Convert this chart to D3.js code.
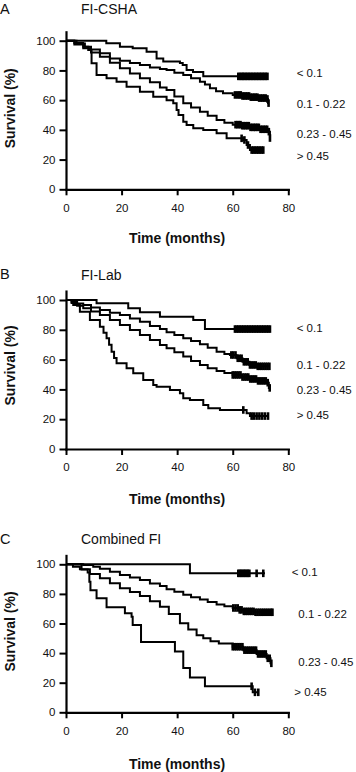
<!DOCTYPE html>
<html><head><meta charset="utf-8">
<script src="https://cdn.jsdelivr.net/npm/d3@7"></script>
<style>
html,body{margin:0;padding:0;background:#fff;}
text{font-family:"Liberation Sans",Arial,Helvetica,sans-serif;fill:#111;}
</style></head>
<body>
<script>
// ---------- DATA ----------
const groupLabels = ["< 0.1", "0.1 - 0.22", "0.23 - 0.45", "> 0.45"];
const panelLetters = ["A", "B", "C"];
const panelTitles = ["FI-CSHA", "FI-Lab", "Combined FI"];
const xTicks = [0, 20, 40, 60, 80];
const yTicks = [0, 20, 40, 60, 80, 100];
const xTitle = "Time (months)";
const yTitle = "Survival (%)";

// Kaplan-Meier steps: [month, survival %]
const cshaLt01 = [[0,100],[14.5,98.3],[19.4,96],[24,94.9],[29,92.6],[32.6,88],[35,86],[41,85],[42,83.6],[43.4,80.3],[45.7,79],[49.4,76]];
const csha0122 = [[0,100],[3,98.5],[6.2,96],[9,94],[12.2,91.5],[15.8,88.1],[19.4,86.5],[23,85],[26.6,83.6],[30.2,82],[33.8,81],[36.2,80.3],[39,78.5],[42.2,76.9],[45,74.8],[48.2,72.4],[50,70.5],[51.8,68],[54,66],[56.5,64.6],[60,63.5],[63,62.8],[66,62],[69,61.4],[72,60.8],[72.7,58]];
const csha2345 = [[0,100],[3,97.5],[6.2,94.9],[9,92],[12.2,89.2],[15.8,85.2],[19.4,81.4],[23,78],[26.6,74.7],[30.2,72],[33.8,68.5],[36.2,66.8],[39,62.5],[42.2,57.9],[45,55],[48.2,52.2],[51,49.5],[54.2,46.6],[57,44.8],[60,43.5],[63,42.8],[66,41.7],[70,40.4],[72.7,38.8],[73.4,34.5]];
const cshaGt045 = [[0,100],[3.8,98.2],[6.8,96],[8,93.7],[9.2,84.8],[11,76.9],[14.6,74.7],[18.2,72.4],[21.8,69],[26.6,65.7],[31.4,62.3],[36.2,60],[38.6,57.9],[39.8,53.4],[40.5,50],[42.2,45.5],[43.4,43.2],[45.8,41],[49.4,39.9],[54.2,37.7],[57.8,34.3],[63.8,33.2],[65,29.8],[66.2,26.4]];

const labLt01 = [[0,100],[11,97.8],[22.4,94.4],[26.6,91.7],[33.8,88.8],[45.8,86.6],[50,80.5]];
const lab0122 = [[0,100],[2,98.8],[4,97.7],[6.2,96.6],[9,95],[12.2,93.3],[15.8,91.5],[19.4,89.9],[23,87.6],[26.6,85.4],[30.2,82.5],[33.8,80.5],[36.2,78.3],[39,76.5],[42.2,74.3],[45,72.5],[48.2,70.3],[51,68],[54.2,65.3],[57,63.8],[59,63.1],[61.4,60.9],[63.5,58.5],[66,56.4],[69,55.5]];
const lab2345 = [[0,100],[2,98],[4,96.2],[6.2,94.4],[9,92.2],[12.2,89.9],[15.8,86.5],[19.4,83.2],[23,79.8],[26.6,76.5],[30.2,73.2],[33.8,69.8],[36.2,67.6],[39,65],[42.2,62],[45,59],[48.2,56.4],[51,54.2],[54.2,52.3],[57,51],[60,49.7],[63,48.3],[66,47],[69,45.7],[72,44.5],[73,41]];
const labGt045 = [[0,100],[2.6,96.6],[5,92.1],[8.6,86.6],[12.2,82],[13.5,78],[14.6,74.3],[15.5,70],[16.4,65.3],[17.3,61],[18.2,57.5],[21.8,54.2],[24.2,50.8],[27.8,46.3],[31.4,43],[32.6,41.8],[37.4,39.6],[41,37.4],[42.2,34],[44.6,32.9],[49.4,29.5],[51.2,27.3],[55.4,26.2],[65,24],[66.2,22.1]];

const combLt01 = [[0,100],[44.6,93.9]];
const comb0122 = [[0,100],[6.2,99.5],[9.8,98.4],[12.2,97],[15.8,95],[19.4,92.8],[23,91],[26.6,89.4],[30.2,87],[33.8,85.3],[36.2,83.2],[39,81.5],[42.2,79.5],[45,77.8],[48.2,76.2],[51,74.5],[54.2,72.8],[57,71.6],[60,70.5],[62,69.2],[63.8,68.2],[68,67.6]];
const comb2345 = [[0,100],[2.5,98.3],[5,96.6],[8.6,93.4],[12.2,90.5],[15.8,87.2],[19.4,83.8],[23,81.2],[26.6,78.6],[30.2,75],[33.8,71.4],[37,66.5],[41,60.1],[44,56],[47,52],[49.4,50],[52,48],[55,46.5],[60,44.3],[63.8,42],[68.6,39.4],[72.2,36.5],[73.6,33.1]];
const combGt045 = [[0,100],[5.6,96.5],[7.8,94.5],[8.4,88.2],[8.8,82.4],[11,77],[14.6,71],[21.2,67],[23.6,64.5],[24,59],[27,47.5],[39.2,41],[42.2,30],[44.6,23.5],[50,17.6],[67.2,13.5]];

// last follow-up month of each curve (groups in legend order)
const cshaEnd = [72.7, 72.9, 73.4, 71];
const labEnd = [73.4, 73.4, 73.4, 72.7];
const combEnd = [71.6, 74.3, 74, 69.2];

// censoring times (months)
const cshaCens = [
  [62,62.6,63.2,63.7,64.2,64.8,65.3,65.9,66.4,67,67.5,68.1,68.6,69.2,69.7,70.3,70.8,71.4,71.9,72.5],
  [60.8,61.6,62.3,62.9,63.5,64.1,64.7,65.3,65.9,66.5,67.1,67.7,68.3,68.9,69.5,70.1,70.7,71.3,71.9,72.5,72.9],
  [61,61.6,62.2,62.8,63.4,64,64.6,65.2,65.8,66.4,67,67.6,68.2,68.8,69.4,70,70.6,71.2,71.8,72.4,73,73.4],
  [63.2,64.2,65.5,66.8,67.4,68,68.6,69.2,69.8,70.4,71]
];
const labCens = [
  [60.8,61.4,62,62.6,63.2,63.8,64.4,65,65.6,66.2,66.8,67.4,68,68.6,69.2,69.8,70.4,71,71.6,72.2,72.8,73.4],
  [59.5,60.2,61,61.8,62.5,63.2,64,64.7,65.4,66.2,66.9,67.6,68.3,69,69.7,70.4,71.1,71.8,72.5,73.2],
  [60,60.7,61.4,62.1,62.8,63.5,64.2,64.9,65.6,66.3,67,67.7,68.4,69.1,69.8,70.5,71.2,71.9,72.6,73.3],
  [63.8,66.8,67.6,68.6,69.6,70.6,71.6,72.7]
];
const combCens = [
  [62,62.5,63,63.5,64,64.5,65,65.5,66,68.6,71],
  [60.2,61,61.8,62.5,63.2,64,64.7,65.4,66.1,66.8,67.5,68.2,68.9,69.6,70.3,71,71.7,72.4,73.1,73.8,74.3],
  [60,60.7,61.4,62.1,62.8,63.5,64.2,64.9,65.6,66.3,67,67.7,68.4,69.1,69.8,70.5,71.2,71.9,72.6,73.3,73.9],
  [66.8,68,69.2]
];

// ---------- LAYOUT (pixels) ----------
const layout = [
  {yTop:40.7, yBot:189.3, letterY:13.5, titleY:14, xTitleY:242.7, yTitleY:108.3,
   legX:[296.7,296.7,296.7,296.7], legY:[72.7,103.7,134,155.5]},
  {yTop:300, yBot:449, letterY:278.5, titleY:280, xTitleY:504, yTitleY:365.5,
   legX:[296.7,296.7,296.7,296.7], legY:[327.5,364.7,389.7,414.7]},
  {yTop:564.3, yBot:712.3, letterY:543.5, titleY:544, xTitleY:769, yTitleY:631.5,
   legX:[291.7,298.3,298.3,294.3], legY:[572,614,662,691.7]}
];

const panelSeries = [
  {steps:[cshaLt01,csha0122,csha2345,cshaGt045], ends:cshaEnd, cens:cshaCens},
  {steps:[labLt01,lab0122,lab2345,labGt045], ends:labEnd, cens:labCens},
  {steps:[combLt01,comb0122,comb2345,combGt045], ends:combEnd, cens:combCens}
];

// ---------- DRAW ----------
const W = 356, H = 772;
const svg = d3.select("body").append("svg").attr("width", W).attr("height", H);
const x = d3.scaleLinear().domain([0, 80]).range([66, 288.3]);

function survAt(steps, t) {
  let v = steps[0][1];
  for (const s of steps) { if (s[0] <= t) v = s[1]; else break; }
  return v;
}

panelSeries.forEach((ps, i) => {
  const L = layout[i];
  const y = d3.scaleLinear().domain([0, 100]).range([L.yBot, L.yTop]);
  const g = svg.append("g");

  g.append("text").attr("x", 0).attr("y", L.letterY).attr("font-size", 14.5).text(panelLetters[i]);
  g.append("text").attr("x", 81).attr("y", L.titleY).attr("font-size", 14).text(panelTitles[i]);

  const line = d3.line().x(d => x(d[0])).y(d => y(d[1])).curve(d3.curveStepAfter);
  ps.steps.forEach((st, k) => {
    const pts = st.concat([[ps.ends[k], st[st.length - 1][1]]]);
    g.append("path").attr("d", line(pts)).attr("fill", "none")
      .attr("stroke", "#000").attr("stroke-width", 2).attr("stroke-linejoin", "miter");
    g.selectAll(null).data(ps.cens[k]).enter().append("line")
      .attr("x1", t => x(t)).attr("x2", t => x(t))
      .attr("y1", t => y(survAt(st, t)) - 3.8)
      .attr("y2", t => y(survAt(st, t)) + 3.8)
      .attr("stroke", "#000").attr("stroke-width", 2.6);
  });

  const yAxisScale = d3.scaleLinear().domain([0, 106]).range([L.yBot, y(106)]);
  const yAxis = d3.axisLeft(yAxisScale).tickValues(yTicks).tickSize(6.5).tickSizeOuter(0).tickPadding(4);
  const ya = g.append("g").attr("transform", "translate(66,0)").call(yAxis);
  const xAxis = d3.axisBottom(x).tickValues(xTicks).tickSize(6).tickSizeOuter(0).tickPadding(8.3);
  const xa = g.append("g").attr("transform", `translate(0,${L.yBot})`).call(xAxis);
  [ya, xa].forEach(a => {
    a.select(".domain").attr("stroke", "#000").attr("stroke-width", 2.2).attr("stroke-linecap", "square");
    a.selectAll(".tick line").attr("stroke", "#000").attr("stroke-width", 2);
    a.selectAll(".tick text").attr("font-size", 11.5).attr("fill", "#111")
      .attr("font-family", '"Liberation Sans",Arial,sans-serif');
  });

  g.append("text").attr("x", 177).attr("y", L.xTitleY).attr("text-anchor", "middle")
    .attr("font-size", 14).attr("font-weight", "bold").text(xTitle);
  g.append("text").attr("transform", `translate(15,${L.yTitleY}) rotate(-90)`)
    .attr("text-anchor", "middle").attr("font-size", 14).attr("font-weight", "bold").text(yTitle);

  groupLabels.forEach((lab, k) => {
    g.append("text").attr("x", L.legX[k]).attr("y", L.legY[k]).attr("dy", "0.35em")
      .attr("font-size", 11.5).text(lab);
  });
});
</script>
</body></html>
